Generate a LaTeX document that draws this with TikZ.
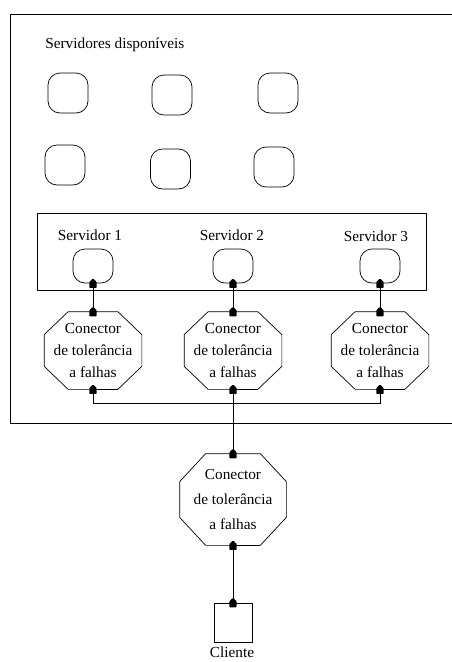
\documentclass[tikz,border=0pt]{standalone}
\usepackage{fontspec}
\setmainfont{Liberation Serif}
\usetikzlibrary{calc}

% octagonal outline around a node: #1 node, #2 horizontal cut, #3 vertical cut
\newcommand\octoframe[3]{%
  \draw ($(#1.north west)+(#2,0)$) -- ($(#1.north east)+(-#2,0)$)
     -- ($(#1.north east)+(0,#3)$) -- ($(#1.south east)+(0,-#3)$)
     -- ($(#1.south east)+(-#2,0)$) -- ($(#1.south west)+(#2,0)$)
     -- ($(#1.south west)+(0,-#3)$) -- ($(#1.north west)+(0,#3)$) -- cycle;
  \draw[line width=1.4pt] (#1.south) -- ($(#1.south east)+(-#2,0)$);}

\begin{document}
\begin{tikzpicture}[x=1pt,y=-1pt,
  line width=0.7pt,
  every node/.style={font=\fontsize{15.3}{21.7}\selectfont},
  slot/.style={draw, rounded corners=12pt, minimum width=40pt,
    minimum height=40pt, inner sep=0pt},
  server/.style={slot, minimum height=34pt},
  octo/.style={align=center, inner sep=0pt, minimum width=97pt,
    minimum height=77pt},
  bigocto/.style={octo, minimum width=106pt, minimum height=91pt,
    font=\fontsize{15.3}{25}\selectfont},
  client/.style={draw, minimum width=38pt, minimum height=39pt, inner sep=0pt},
  lbl/.style={inner sep=0pt, anchor=base},
  port/.pic={\fill[rounded corners=0.8pt] (-3.6,4.6) -- (-3.6,-1.6)
     -- (0,-4.8) -- (3.6,-1.6) -- (3.6,4.6) -- cycle;}
]
\useasboundingbox (0,0) rectangle (451,662);

% pool of available servers
\draw (460,14) -- (10,14) -- (10,423) -- (460,423);
\node[inner sep=0pt, anchor=base west] (pool) at (45,48.5) {Servidores disponíveis};
\node[slot] (a1) at (68,93) {};
\node[slot] (a2) at (172,95) {};
\node[slot] (a3) at (278,93) {};
\node[slot] (a4) at (65,165) {};
\node[slot] (a5) at (170.5,169) {};
\node[slot] (a6) at (274,167) {};

% replicated servers in use
\draw (37,213) rectangle (426,290);
\node[lbl] (l1) at (90,240) {Servidor 1};
\node[lbl] (l2) at (232,240) {Servidor 2};
\node[lbl] (l3) at (376,241) {Servidor 3};
\node[server] (s1) at (93,266) {};
\node[server] (s2) at (233,266) {};
\node[server] (s3) at (380,266) {};

% fault tolerance connectors
\node[octo] (c1) at (93,350.5) {Conector\\de tolerância\\a falhas};
\node[octo] (c2) at (233,350.5) {Conector\\de tolerância\\a falhas};
\node[octo] (c3) at (380,350.5) {Conector\\de tolerância\\a falhas};
\octoframe{c1}{24}{23}
\octoframe{c2}{24}{23}
\octoframe{c3}{24}{23}

\node[bigocto] (c4) at (233,499.5) {Conector\\de tolerância\\a falhas};
\octoframe{c4}{26}{28}

% client
\node[client] (cl) at (233,622.5) {};
\node[lbl] (cll) at (232,657.5) {Cliente};

% links
\draw (s1.south) -- (c1.north);
\draw (s2.south) -- (c2.north);
\draw (s3.south) -- (c3.north);
\draw (c1.south) -- ++(0,14) -| (c3.south);
\draw (c2.south) -- (c4.north);
\draw (c4.south) -- (cl.north);

% ports
\foreach \p in {s1.south,s2.south,s3.south,c1.north,c2.north,c3.north,
                c1.south,c2.south,c3.south,c4.north,c4.south,cl.north}
  \pic at (\p) {port};
\end{tikzpicture}
\end{document}
